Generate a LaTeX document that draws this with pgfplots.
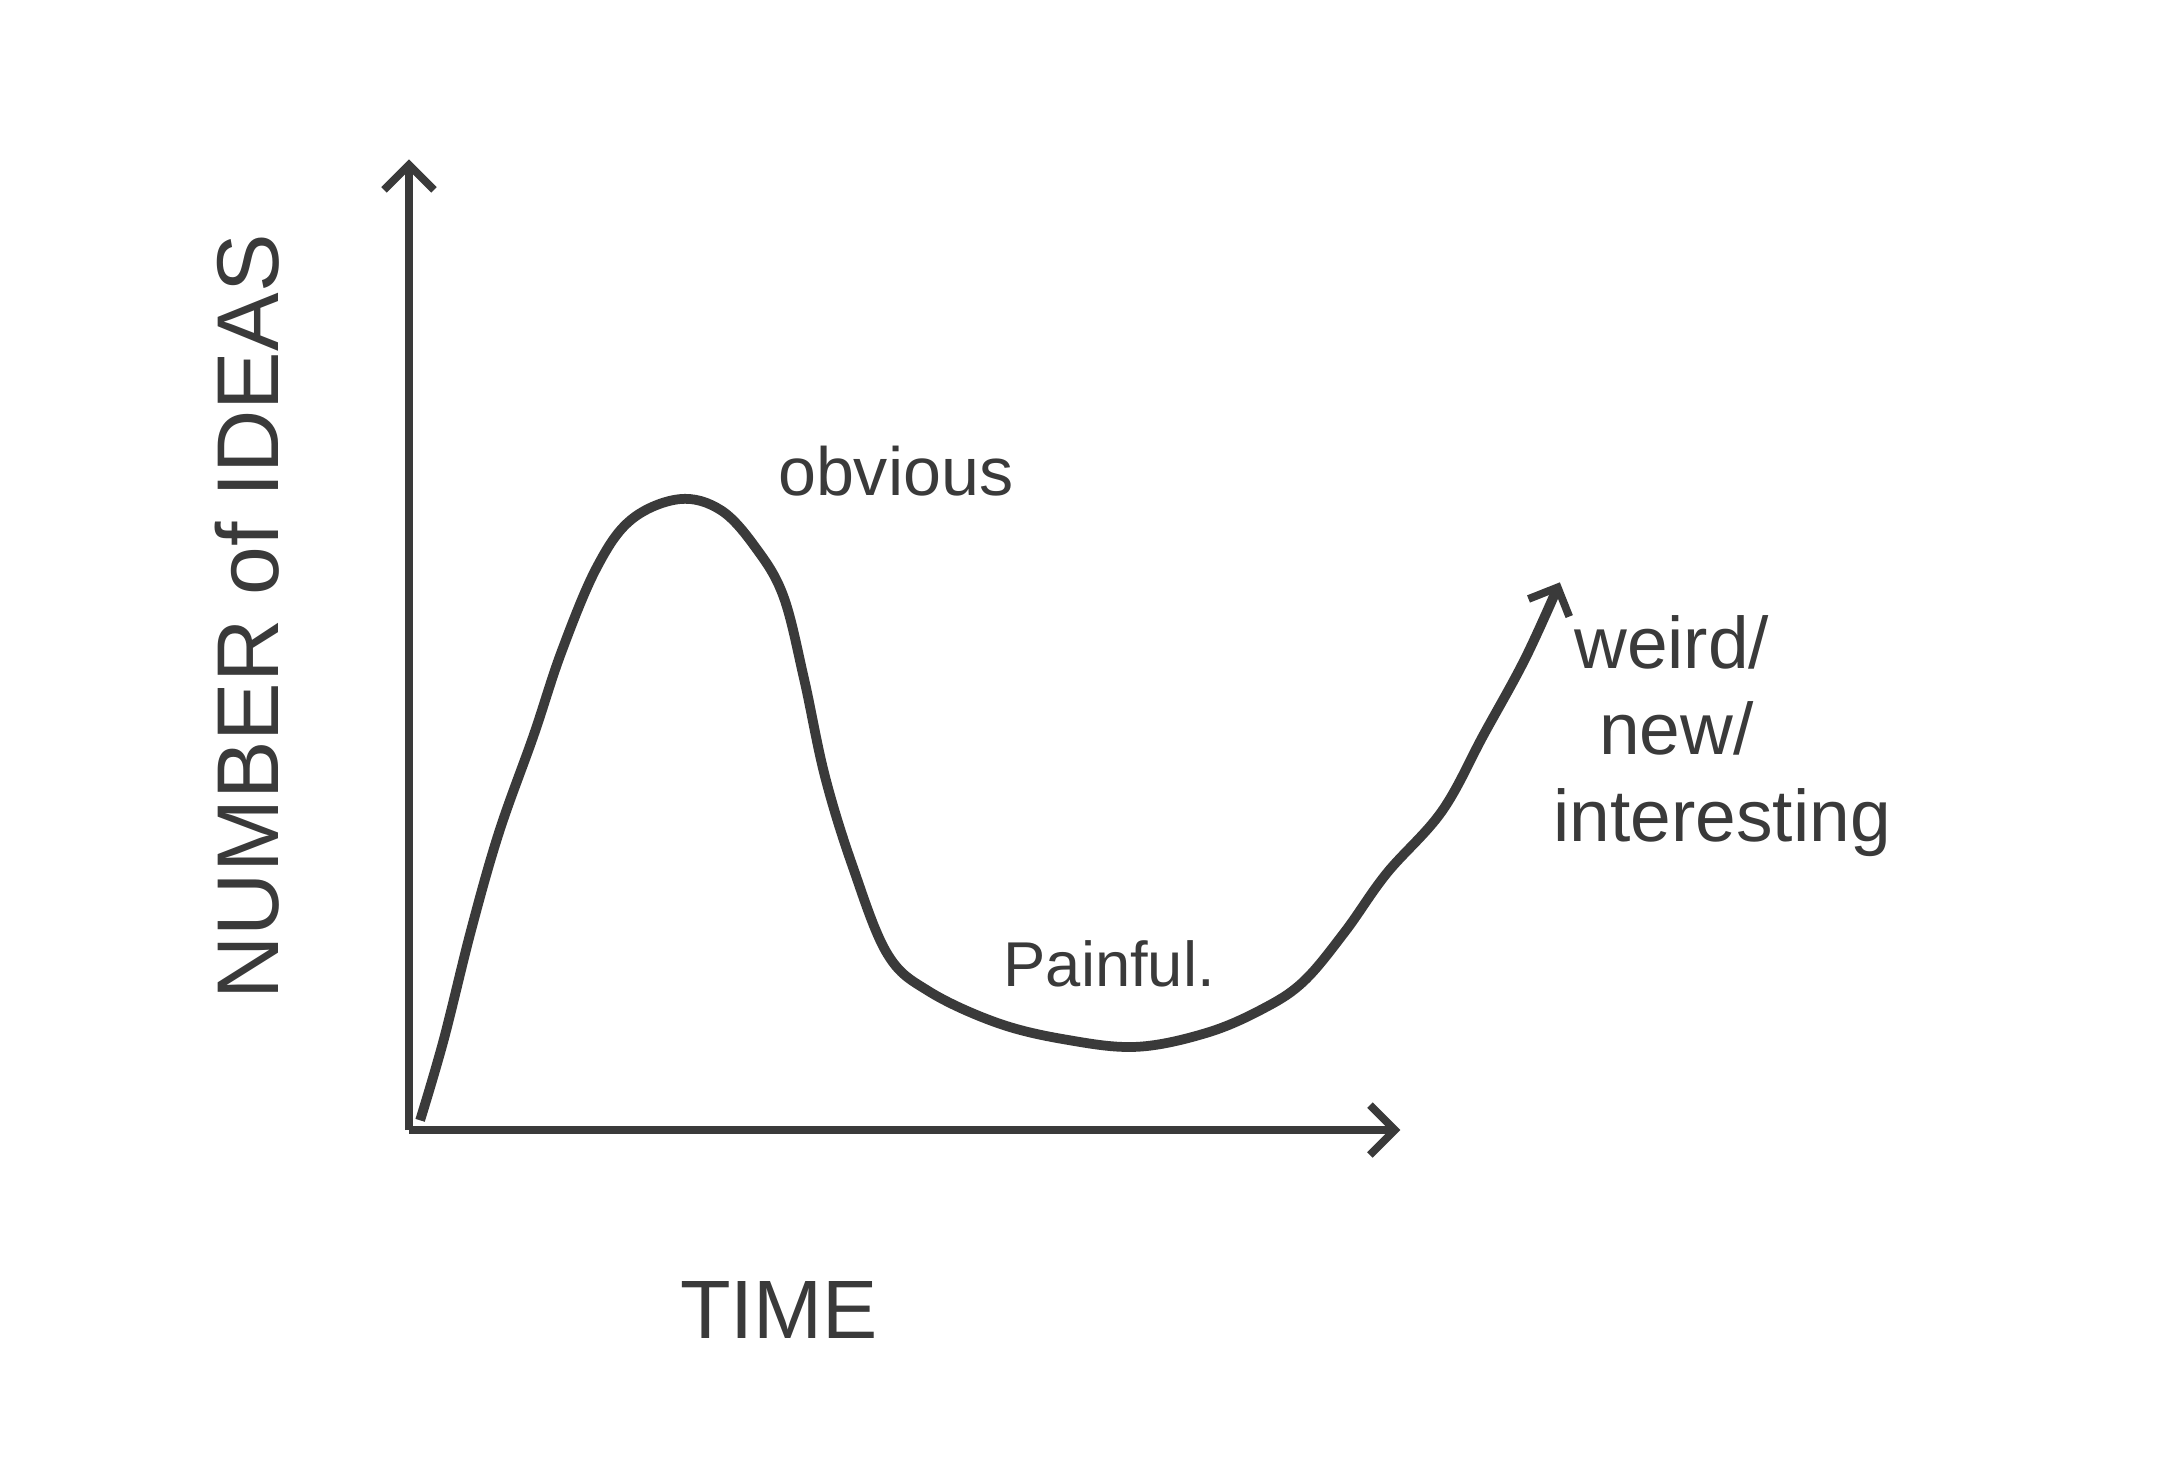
\documentclass[border=0pt]{standalone}
\usepackage{pgfplots}
\pgfplotsset{compat=1.18}
\usepackage{fontspec}
\setmainfont{Liberation Sans}
\usetikzlibrary{arrows.meta}
\definecolor{ink}{HTML}{3A3A3A}

\begin{document}
\begin{tikzpicture}
\begin{axis}[
  x=0.1mm, y=0.1mm,
  xmin=0, xmax=715, ymin=0, ymax=700,
  axis lines=left,
  axis line style={ink, line width=1.8pt, -{Straight Barb[length=1.8mm,width=3.6mm,line width=1.6pt]}},
  ticks=none,
  clip=false,
]
% frame of the whole sheet (sets the picture size)
\path[draw=none] (axis cs:-295,-255) rectangle (axis cs:1265,815);

\addplot[ink, line width=2pt, smooth, tension=0.6,
  -{Straight Barb[length=1.6mm,width=3.2mm,line width=1.6pt]}] coordinates {
  (8,7) (25,65) (45,145) (65,215) (90,285) (110,345) (135,405) (160,440)
  (195,455) (225,447) (250,420) (270,385) (285,325) (300,255) (320,190)
  (345,127) (375,100) (425,77) (475,65) (525,60) (575,70) (615,87)
  (645,107) (675,143) (705,185) (745,230) (775,285) (805,340) (830,395)
};

\node[ink, rotate=90, font=\fontsize{18}{20}\selectfont] at (axis cs:-117,370) {NUMBER of IDEAS};
\node[ink, font=\fontsize{17}{20}\selectfont] at (axis cs:267,-130) {TIME};
\node[ink, font=\fontsize{14}{16}\selectfont] at (axis cs:351,475) {obvious};
\node[ink, font=\fontsize{13}{16}\selectfont] at (axis cs:505,120) {Painful.};
\node[ink, anchor=west, font=\fontsize{15}{18}\selectfont] at (axis cs:828,352) {weird/};
\node[ink, anchor=west, font=\fontsize{15}{18}\selectfont] at (axis cs:846,290) {new/};
\node[ink, anchor=west, font=\fontsize{15}{18}\selectfont] at (axis cs:813,222) {interesting};
\end{axis}
\end{tikzpicture}
\end{document}
